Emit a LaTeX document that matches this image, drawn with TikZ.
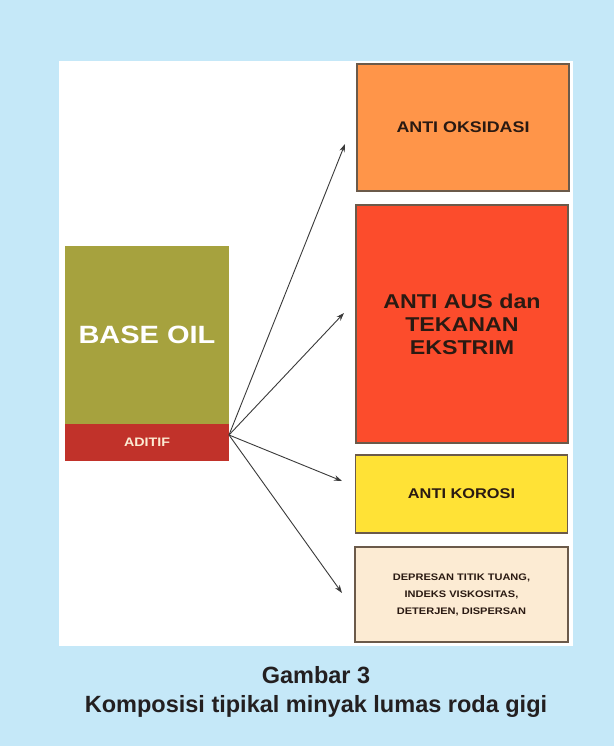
\documentclass[tikz,border=0pt]{standalone}
\usepackage{fontspec}
\setmainfont{Liberation Sans}
\newfontfamily\boxfont[FakeStretch=1.16]{Liberation Sans Bold}
\usetikzlibrary{arrows.meta}
\definecolor{bgblue}{HTML}{C5E8F8}
\definecolor{cOrange}{HTML}{FF9549}
\definecolor{cRed}{HTML}{FC4C2C}
\definecolor{cYellow}{HTML}{FFE236}
\definecolor{cCream}{HTML}{FCEBD3}
\definecolor{cOlive}{HTML}{A6A23E}
\definecolor{cAditif}{HTML}{C1322A}
\definecolor{cBorder}{HTML}{6B5A4A}
\definecolor{cText}{HTML}{2A1A12}
\definecolor{cCap}{HTML}{231F20}
\definecolor{cArrow}{HTML}{3A3A3A}
\tikzset{
  box/.style={draw=cBorder, line width=1.1pt, inner sep=0pt, outer sep=0pt,
    text=cText, align=center},
  arr/.style={draw=cArrow, line width=0.9pt, -{Stealth[length=8pt,width=5.5pt]}},
  captext/.style={font=\bfseries\fontsize{23.5}{28}\selectfont, text=cCap, anchor=base, inner sep=0pt},
}
\begin{document}
\begin{tikzpicture}[x=1pt,y=-1pt]
\fill[bgblue] (0,0) rectangle (614,746);
\useasboundingbox (0,0) rectangle (614,746);
\fill[white] (59,61) rectangle (573,646);
% right boxes
\node[box, fill=cOrange, minimum width=212pt, minimum height=127pt,
  font=\boxfont\fontsize{15.4}{18}\selectfont] (ox) at (463,127.5) {ANTI OKSIDASI};
\node[box, fill=cRed, minimum width=212pt, minimum height=238pt,
  font=\boxfont\fontsize{20}{23}\selectfont] (aus) at (462,324) {ANTI AUS dan\\TEKANAN\\EKSTRIM};
\node[box, fill=cYellow, minimum width=212pt, minimum height=78pt,
  font=\boxfont\fontsize{14.1}{17}\selectfont] (kor) at (461.5,494) {ANTI KOROSI};
\node[box, fill=cCream, minimum width=213pt, minimum height=95pt,
  font=\boxfont\fontsize{9.5}{17}\selectfont] (dep) at (461.5,594.5)
  {DEPRESAN TITIK TUANG,\\INDEKS VISKOSITAS,\\DETERJEN, DISPERSAN};
% base oil
\node[box, draw=none, fill=cOlive, minimum width=164pt, minimum height=178pt, text=white,
  font=\boxfont\fontsize{25}{28}\selectfont] (base) at (147,335) {BASE OIL};
\node[box, draw=none, fill=cAditif, minimum width=164pt, minimum height=37pt, text=cCream,
  font=\boxfont\fontsize{12.3}{14}\selectfont] (ad) at (147,442.5) {ADITIF};
% arrows
\coordinate (org) at (229,435);
\coordinate (t1) at (345,144);
\coordinate (t2) at (344,313);
\coordinate (t3) at (342,481);
\coordinate (t4) at (342,593);
\draw[arr] (org) -- (t1);
\draw[arr] (org) -- (t2);
\draw[arr] (org) -- (t3);
\draw[arr] (org) -- (t4);
% caption
\node[captext] (cap1) at (316,683) {Gambar 3};
\node[captext] (cap2) at (316,712) {Komposisi tipikal minyak lumas roda gigi};
\end{tikzpicture}
\end{document}
